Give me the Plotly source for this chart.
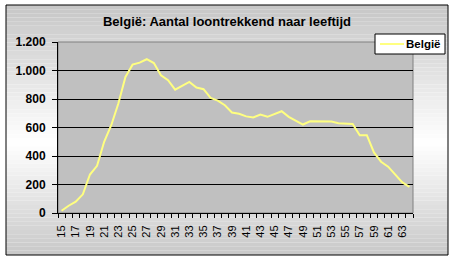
import plotly.graph_objects as go

ages = [15, 16, 17, 18, 19, 20, 21, 22, 23, 24, 25, 26, 27, 28, 29, 30, 31, 32, 33, 34,
        35, 36, 37, 38, 39, 40, 41, 42, 43, 44, 45, 46, 47, 48, 49, 50, 51, 52, 53, 54,
        55, 56, 57, 58, 59, 60, 61, 62, 63, 64]
belgie = [16, 51, 79, 131, 270, 331, 500, 616, 768, 955, 1041, 1055, 1079, 1052, 967, 932,
          866, 892, 920, 881, 869, 808, 789, 756, 705, 696, 678, 670, 691, 675, 696, 714,
          675, 649, 621, 644, 644, 644, 642, 630, 630, 625, 546, 546, 425, 360, 325, 266,
          215, 184]
tick_labels = [str(a) for a in range(15, 64, 2)]
y_ticks = [0, 200, 400, 600, 800, 1000, 1200]
series_name = "België"
LINE_COLOR = "#ffff80"

W, H = 454, 260
L, R, T, B = 58, 413, 42, 213

def px_x(p):
    return (p - L) / (R - L)

def px_y(p):
    return (B - p) / (B - T)

fig = go.Figure()
fig.add_trace(go.Scatter(x=ages, y=belgie, mode="lines", name=series_name,
                         line=dict(color=LINE_COLOR, width=2), showlegend=False))

shapes = []
top, bot = 5, 255
n = 60
for i in range(n):
    y0 = top + (bot - top) * i / n
    y1 = top + (bot - top) * (i + 1) / n
    t = (i + 0.5) / n
    mid = 0.55
    if t < mid:
        v = 198 + (255 - 198) * (t / mid)
    else:
        v = 255 - (255 - 200) * ((t - mid) / (1 - mid))
    v = int(round(v))
    shapes.append(dict(type="rect", xref="paper", yref="paper", layer="below",
                       x0=px_x(6), x1=px_x(448), y0=px_y(y1), y1=px_y(y0),
                       fillcolor=f"rgb({v},{v},{v})", line=dict(width=0)))
shapes.append(dict(type="rect", xref="paper", yref="paper", layer="below",
                   x0=px_x(6), x1=px_x(448), y0=px_y(255), y1=px_y(5),
                   fillcolor="rgba(0,0,0,0)", line=dict(color="black", width=1)))
shapes.append(dict(type="rect", xref="paper", yref="paper", layer="below",
                   x0=0, x1=1, y0=0, y1=1,
                   fillcolor="#c0c0c0", line=dict(color="#808080", width=1)))
# legend box (drawn manually)
shapes.append(dict(type="rect", xref="paper", yref="paper", layer="above",
                   x0=px_x(375), x1=px_x(445), y0=px_y(54), y1=px_y(34),
                   fillcolor="white", line=dict(color="black", width=1)))
shapes.append(dict(type="line", xref="paper", yref="paper", layer="above",
                   x0=px_x(380), x1=px_x(404), y0=px_y(44), y1=px_y(44),
                   line=dict(color=LINE_COLOR, width=2)))

annotations = [dict(text="<b>" + series_name + "</b>", xref="paper", yref="paper",
                    x=px_x(404), y=px_y(44), xanchor="left", yanchor="middle",
                    showarrow=False,
                    font=dict(family="Liberation Sans, Arial", size=11.5, color="black"))]

fig.update_layout(
    width=W, height=H,
    margin=dict(l=L, r=W - R, t=T, b=H - B, pad=0),
    paper_bgcolor="white",
    plot_bgcolor="rgba(0,0,0,0)",
    shapes=shapes,
    annotations=annotations,
    showlegend=False,
    title=dict(text="<b>België: Aantal loontrekkend naar leeftijd</b>",
               x=0.5, xref="container", xanchor="center",
               y=1 - 21.5 / H, yref="container", yanchor="middle",
               font=dict(family="Liberation Sans, Arial", size=13, color="black")),
    font=dict(family="Liberation Sans, Arial", color="black"),
)

fig.update_xaxes(
    type="linear", range=[14.5, 64.5],
    tickmode="array", tickvals=list(range(15, 64, 2)), ticktext=tick_labels,
    tickangle=-90, ticks="", showgrid=False, zeroline=False,
    showline=True, linecolor="black", linewidth=1,
    ticklabelstandoff=7,
    tickfont=dict(family="Liberation Sans, Arial", size=11, color="black"),
    minor=dict(ticks="outside", tick0=14.5, dtick=1, ticklen=4, tickcolor="black",
               tickwidth=1, showgrid=False),
)
fig.update_yaxes(
    range=[0, 1200], tickmode="array", tickvals=y_ticks,
    ticktext=["<b>" + f"{v:,}".replace(",", ".") + "</b>" for v in y_ticks],
    ticks="outside", ticklen=5, tickcolor="black",
    showgrid=True, gridcolor="black", gridwidth=1, zeroline=False,
    showline=True, linecolor="black", linewidth=1,
    ticklabelstandoff=4,
    tickfont=dict(family="Liberation Sans, Arial", size=12, color="black"),
)

fig.write_html("out.html")
